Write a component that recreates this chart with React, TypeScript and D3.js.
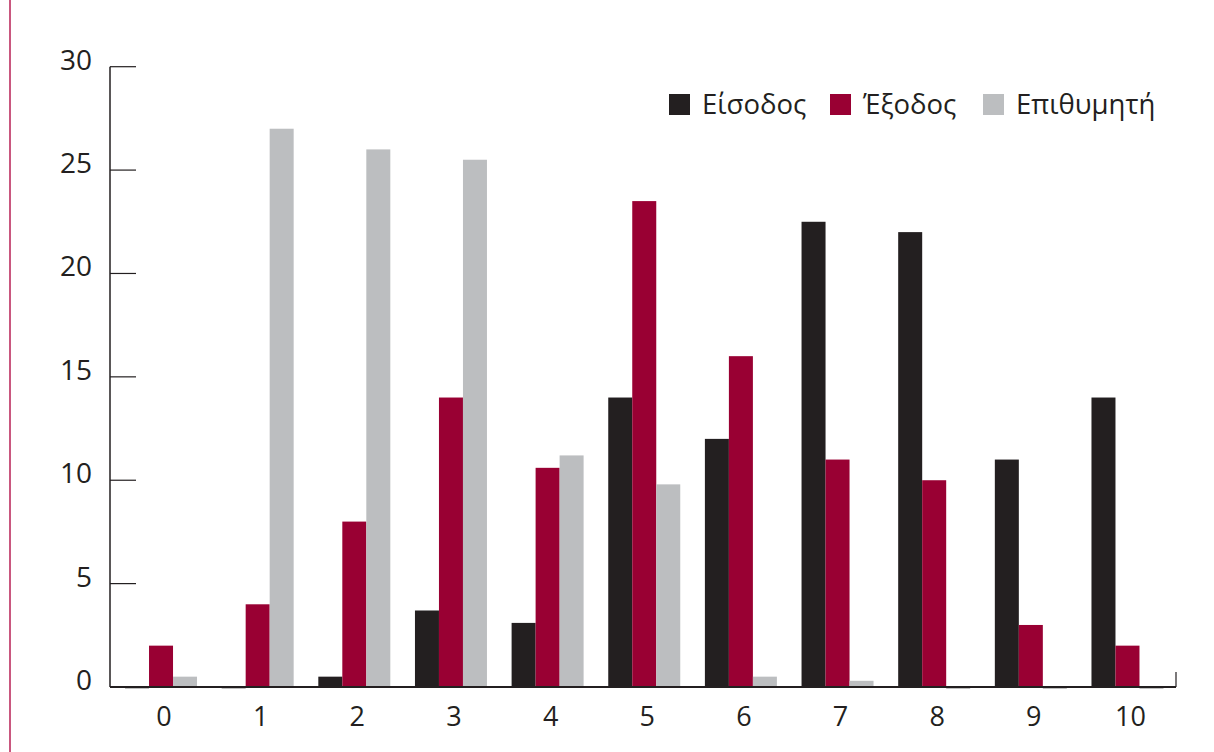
import React from "react";
import * as d3 from "d3";

const categories = ["0", "1", "2", "3", "4", "5", "6", "7", "8", "9", "10"];
const seriesNames = ["Είσοδος", "Έξοδος", "Επιθυμητή"];
const eisodos = [0, 0, 0.5, 3.7, 3.1, 14, 12, 22.5, 22, 11, 14];
const exodos = [2, 4, 8, 14, 10.6, 23.5, 16, 11, 10, 3, 2];
const epithymiti = [0.5, 27, 26, 25.5, 11.2, 9.8, 0.5, 0.3, 0, 0, 0];
const yTicks = [0, 5, 10, 15, 20, 25, 30];
const colors = ["#231f20", "#990033", "#bcbec0"];

const W = 1214;
const H = 752;
const FONT = "'Open Sans', sans-serif";
const TEXT = "#231f20";

export default function App() {
  const series = [eisodos, exodos, epithymiti];
  const x = d3.scaleBand<string>().domain(categories).range([112.7, 1175.8]).padding(0);
  const inner = d3.scaleBand<number>().domain([0, 1, 2]).range([-36, 36]).padding(0);
  const y = d3.scaleLinear().domain([0, 30]).range([687, 66.7]);
  const x0 = 110;
  const x1 = 1176;

  const center = (c: string) => (x(c) as number) + x.bandwidth() / 2;

  return (
    <svg width={W} height={H} style={{ position: "absolute", left: 0, top: 0, background: "#fff" }}>
      <line x1={10} x2={10} y1={0} y2={H} stroke="#c9577f" strokeWidth={2} />
      {/* bars */}
      {series.map((vals, si) =>
        vals.map((v, i) => {
          const bx = center(categories[i]) + (inner(si) as number);
          const bw = inner.bandwidth();
          if (v === 0) {
            return (
              <rect key={`z${si}-${i}`} x={bx} y={y(0) - 0.5} width={bw} height={2.5} fill="#8a8a8a" opacity={0.55} />
            );
          }
          return (
            <rect key={`b${si}-${i}`} x={bx} y={y(v)} width={bw} height={y(0) - y(v)} fill={colors[si]} />
          );
        })
      )}
      {/* y axis */}
      <line x1={x0} x2={x0} y1={y(30)} y2={y(0)} stroke={TEXT} strokeWidth={1.5} />
      {yTicks.map((t) => (
        <g key={t}>
          {t > 0 && <line x1={x0} x2={136} y1={y(t)} y2={y(t)} stroke={TEXT} strokeWidth={1.2} />}
          <text x={92} y={y(t) + 3} textAnchor="end" fontFamily={FONT} fontSize={28} fill={TEXT}>
            {t}
          </text>
        </g>
      ))}
      {/* x axis */}
      <line x1={x0} x2={x1} y1={y(0)} y2={y(0)} stroke={TEXT} strokeWidth={1.8} />
      <line x1={x1} x2={x1} y1={y(0)} y2={y(0) - 15} stroke={TEXT} strokeWidth={1.2} />
      {categories.map((c) => (
        <text key={c} x={center(c) + 3} y={726} textAnchor="middle" fontFamily={FONT} fontSize={27} fill={TEXT}>
          {c}
        </text>
      ))}
      {/* legend */}
      {seriesNames.map((n, i) => {
        const lx = [669, 830, 983][i];
        return (
          <g key={n}>
            <rect x={lx} y={94} width={21} height={21} fill={colors[i]} />
            <text x={lx + 33} y={114} fontFamily={FONT} fontSize={27.5} fill={TEXT}>
              {n}
            </text>
          </g>
        );
      })}
    </svg>
  );
}
